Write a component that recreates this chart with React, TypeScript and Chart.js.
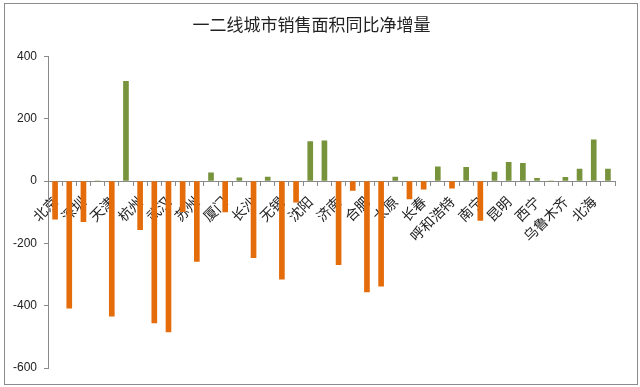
import React, { useEffect, useRef } from 'react';
import { Chart, registerables } from 'chart.js';

Chart.register(...registerables);

const chartTitle = '一二线城市销售面积同比净增量';

const cities = [
  '北京', '上海', '深圳', '广州', '天津', '重庆', '杭州', '南京', '武汉', '成都',
  '苏州', '西安', '厦门', '福州', '长沙', '郑州', '无锡', '青岛', '沈阳', '大连',
  '济南', '宁波', '合肥', '南昌', '太原', '石家庄', '长春', '哈尔滨', '呼和浩特', '贵阳',
  '南宁', '兰州', '昆明', '海口', '西宁', '银川', '乌鲁木齐', '三亚', '北海', '东莞',
];

const netChange = [
  -122, -408, -130, 0, -434, 320, -156, -455, -484, -98,
  -258, 26, -99, 10, -246, 13, -315, -68, 127, 129,
  -268, -30, -356, -337, 13, -57, -26, 46, -23, 44,
  -126, 29, 60, 57, 9, 0, 12, 38, 132, 38,
];

const yMin = -600;
const yMax = 400;
const yStep = 200;

const ORANGE = '#E46C0A';
const GREEN = '#77933C';
const AXIS = '#8a8a8a';
const CJK = '"Noto Sans CJK SC", "Noto Sans", sans-serif';

export default function App() {
  const ref = useRef<HTMLCanvasElement>(null);

  useEffect(() => {
    document.body.style.margin = '0';
    const chart = new Chart(ref.current as HTMLCanvasElement, {
      type: 'bar',
      data: {
        labels: cities,
        datasets: [
          {
            data: netChange,
            backgroundColor: netChange.map((v) => (v < 0 ? ORANGE : GREEN)),
            borderWidth: 0,
            barThickness: 5,
          },
        ],
      },
      options: {
        animation: false,
        responsive: false,
        maintainAspectRatio: false,
        layout: { padding: { left: 8, right: 25, top: 0, bottom: 19 } },
        plugins: {
          legend: { display: false },
          tooltip: { enabled: false },
          title: {
            display: true,
            text: chartTitle,
            color: '#222',
            font: { family: CJK, size: 17, weight: 'normal' },
            padding: { top: 14, bottom: 22 },
          },
        },
        scales: {
          x: {
            position: { y: 0 } as any,
            grid: {
              display: true,
              drawOnChartArea: false,
              drawTicks: true,
              tickLength: 4,
              color: AXIS,
              offset: true,
            },
            border: { display: true, color: AXIS, width: 1 },
            ticks: {
              autoSkip: false,
              minRotation: 45,
              maxRotation: 45,
              padding: 8,
              color: '#222',
              font: { family: CJK, size: 14 },
              callback: (_v: any, i: number) => (i % 2 === 0 ? cities[i] : ''),
            },
          },
          y: {
            min: yMin,
            max: yMax,
            grid: {
              display: true,
              drawOnChartArea: false,
              tickLength: 4,
              color: AXIS,
            },
            border: { display: true, color: AXIS, width: 1 },
            ticks: {
              stepSize: yStep,
              padding: 7,
              color: '#222',
              font: { family: '"Liberation Sans", Arial, sans-serif', size: 12 },
            },
            afterFit: (s: any) => {
              s.width = 40;
            },
          },
        },
      },
    });
    return () => chart.destroy();
  }, []);

  return (
    <div style={{ position: 'relative', width: 640, height: 387, background: '#fff' }}>
      <div
        style={{
          position: 'absolute',
          left: 4,
          top: 3,
          width: 632,
          height: 380,
          border: '1px solid #8c8c8c',
          boxSizing: 'content-box',
        }}
      />
      <canvas
        ref={ref}
        width={640}
        height={387}
        style={{ position: 'absolute', left: 0, top: 0 }}
      />
    </div>
  );
}
